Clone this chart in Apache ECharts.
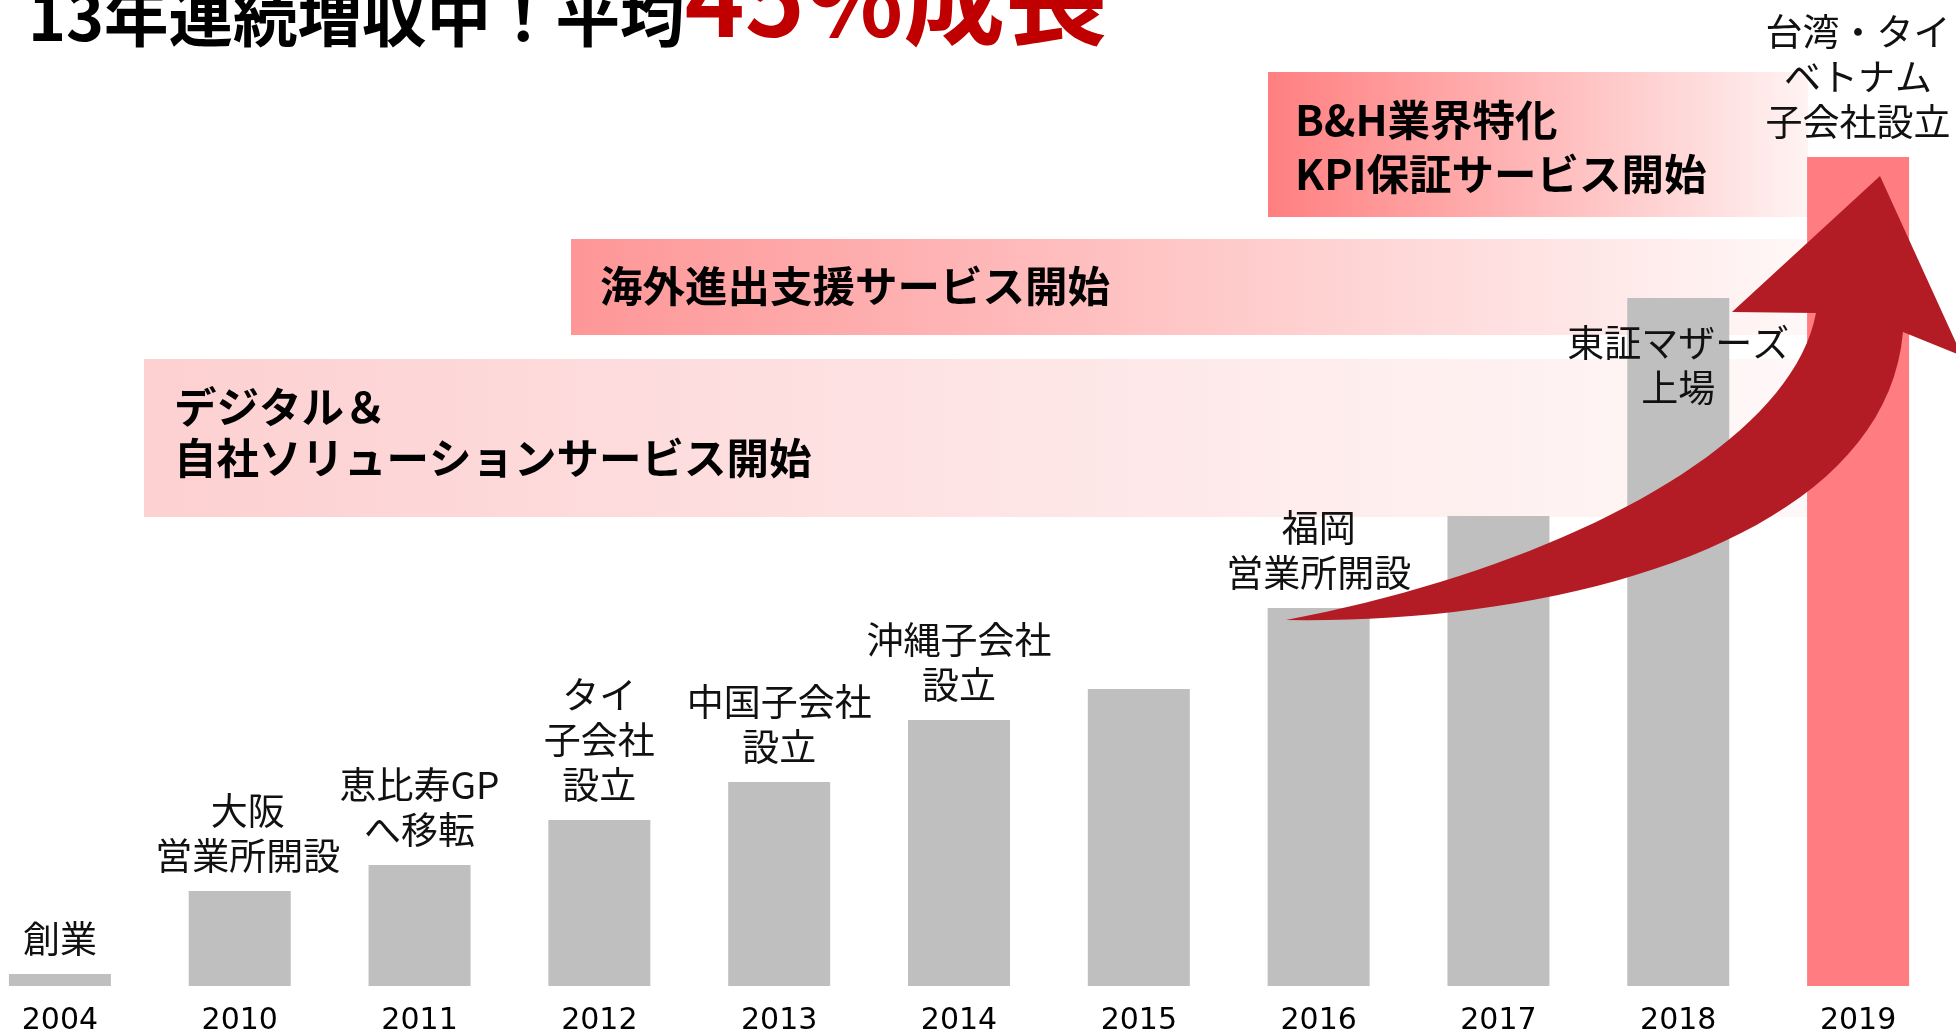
<!DOCTYPE html>
<html>
<head>
<meta charset="utf-8">
<title>13年連続増収中</title>
<script src="https://cdn.jsdelivr.net/npm/echarts@6/dist/echarts.min.js"></script>
<style>
html,body{margin:0;padding:0;background:#fff;}
#main{width:1956px;height:1032px;}
</style>
</head>
<body>
<div id="main"></div>
<script>
// 年度
var years = ['2004','2010','2011','2012','2013','2014','2015','2016','2017','2018','2019'];
// 売上（相対値）
var sales = [12, 95, 121, 166, 204, 266, 297, 378, 470, 688, 829];
// 各年の出来事
var events = [
    '創業',
    '大阪\n営業所開設',
    '恵比寿GP\nへ移転',
    'タイ\n子会社\n設立',
    '中国子会社\n設立',
    '沖縄子会社\n設立',
    '',
    '福岡\n営業所開設',
    '',
    '東証マザーズ\n上場',
    '台湾・タイ\nベトナム\n子会社設立'
];
// サービス開始の帯
var bandLines = [
    ['デジタル＆', '自社ソリューションサービス開始'],
    ['海外進出支援サービス開始'],
    ['B&H業界特化', 'KPI保証サービス開始']
];

var FONT = '"Noto Sans CJK JP", "Noto Sans", sans-serif';
var chart = echarts.init(document.getElementById('main'));

var barData = [];
for (var i = 0; i < sales.length; i++) {
    var item = {value: sales[i]};
    if (years[i] === '2019') {
        item.itemStyle = {color: '#ff7c80'};
    }
    if (years[i] === '2018') {
        item.label = {position: 'insideTop', distance: 22};
    }
    if (years[i] === '2010') {
        item.label = {offset: [8, 0]};
    }
    barData.push(item);
}

function band(x, y, w, h, c0, c1) {
    return {
        type: 'rect', z: -10,
        shape: {x: x, y: y, width: w, height: h},
        style: {
            fill: {type: 'linear', x: 0, y: 0, x2: 1, y2: 0,
                colorStops: [{offset: 0, color: c0}, {offset: 1, color: c1}]}
        }
    };
}
function bandText(x, y, txt) {
    return {
        type: 'text', z: -5, x: x, y: y,
        style: {text: txt, fill: '#000', font: 'bold 42.5px ' + FONT,
            textAlign: 'left', textVerticalAlign: 'middle'}
    };
}

// 矢印の輪郭（3次ベジェを点列にする）
function cubic(p0, p1, p2, p3, n) {
    var pts = [];
    for (var k = 0; k <= n; k++) {
        var t = k / n, u = 1 - t;
        pts.push([
            u*u*u*p0[0] + 3*u*u*t*p1[0] + 3*u*t*t*p2[0] + t*t*t*p3[0],
            u*u*u*p0[1] + 3*u*u*t*p1[1] + 3*u*t*t*p2[1] + t*t*t*p3[1]
        ]);
    }
    return pts;
}
var arrowPts = cubic([1286, 620], [1550, 570], [1790, 450], [1816, 313], 40)
    .concat([[1732, 312], [1880, 176], [1962, 356]])
    .concat(cubic([1903, 332], [1885, 540], [1560, 625], [1286, 620], 40));

var graphics = [
    band(144, 359, 1663, 158, '#fdd0d1', '#fff8f8'),
    band(571, 239, 1236, 96, '#fe9697', '#fff8f8'),
    band(1268, 72, 540, 145, '#ff7f80', '#fff3f3'),
    bandText(174, 407, bandLines[0][0]),
    bandText(174, 458, bandLines[0][1]),
    bandText(600, 286, bandLines[1][0]),
    bandText(1295, 120, bandLines[2][0]),
    bandText(1295, 174, bandLines[2][1]),
    {
        // タイトル（上部が切れている）
        type: 'text', x: 28, y: 49, z: 10,
        style: {
            text: '{a|13年連続増収中！平均}{b|45%成長}',
            textVerticalAlign: 'bottom',
            rich: {
                a: {fontSize: 64.5, fontWeight: 'bold', fill: '#000', fontFamily: FONT, verticalAlign: 'bottom'},
                b: {fontSize: 102, fontWeight: 'bold', fill: '#c00000', fontFamily: FONT, verticalAlign: 'bottom'}
            }
        }
    },
    {
        // 成長の矢印
        type: 'polygon', z: 100,
        shape: {points: arrowPts},
        style: {fill: '#b31c25'}
    }
];

chart.setOption({
    backgroundColor: '#fff',
    animation: false,
    grid: {left: -30, right: 8, top: 86, bottom: 46, outerBoundsMode: 'none'},
    xAxis: {
        type: 'category',
        data: years,
        axisLine: {show: false},
        axisTick: {show: false},
        axisLabel: {color: '#000', fontSize: 30, fontFamily: '"DejaVu Sans", sans-serif', margin: 20}
    },
    yAxis: {
        type: 'value', min: 0, max: 900,
        show: false, splitLine: {show: false}
    },
    graphic: graphics,
    series: [{
        type: 'bar',
        barWidth: 102,
        data: barData,
        itemStyle: {color: '#bfbfbf'},
        label: {
            show: true,
            position: 'top',
            distance: 13,
            color: '#111',
            fontSize: 37,
            lineHeight: 45,
            fontFamily: FONT,
            align: 'center',
            formatter: function (p) { return events[p.dataIndex]; }
        }
    }]
});
</script>
</body>
</html>
